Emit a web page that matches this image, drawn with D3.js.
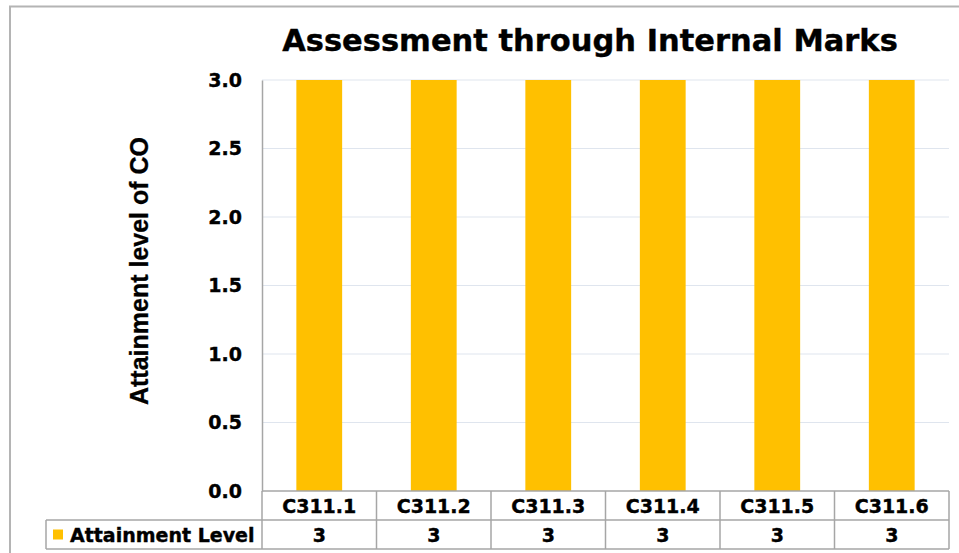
<!DOCTYPE html>
<meta charset="utf-8">
<head>
    <title>Assessment through Internal Marks</title>
    <style>
        body { margin: 0; background: #fff; }
        svg { display: block; }
    </style>
</head>
<body>
<svg width="959" height="553"></svg>
<script src="https://d3js.org/d3.v7.min.js"></script>
<script>

    // chart data
    var categories = ["C311.1", "C311.2", "C311.3", "C311.4", "C311.5", "C311.6"];
    var attainment = [3, 3, 3, 3, 3, 3];
    var seriesName = "Attainment Level";
    var yTicks = [0, 0.5, 1.0, 1.5, 2.0, 2.5, 3.0];

    var svg = d3.select("svg"),
        width = +svg.attr("width"),
        height = +svg.attr("height");

    var font = "'DejaVu Sans', Verdana, sans-serif";
    var plot = {left: 262, right: 949, top: 80, bottom: 491};
    var rowH = 29;

    //outer frame (only left and top edges show in the frame)
    svg.append("path")
        .attr("d", "M10,553 V6.5 H959")
        .attr("fill", "none")
        .attr("stroke", "#b4b4b4")
        .attr("stroke-width", 2);

    var x = d3.scaleBand()
        .domain(categories)
        .range([plot.left, plot.right])
        .paddingInner(0.6)
        .paddingOuter(0.3);

    var col = d3.scaleBand()
        .domain(categories)
        .range([plot.left, plot.right]);

    var y = d3.scaleLinear()
        .domain([0, 3])
        .range([plot.bottom, plot.top]);

    //bold text helper, slightly heavier like Verdana bold
    function boldText(sel, size) {
        sel.attr("font-family", font)
            .attr("font-weight", "bold")
            .attr("font-size", size)
            .attr("fill", "#000")
            .attr("stroke", "#000")
            .attr("stroke-width", 0.4);
    }

    //gridlines
    svg.append("g")
        .selectAll("line")
        .data(yTicks.filter(function(d) { return d > 0; }))
        .enter().append("line")
        .attr("x1", plot.left)
        .attr("x2", plot.right)
        .attr("y1", function(d) { return y(d); })
        .attr("y2", function(d) { return y(d); })
        .attr("stroke", "#dfe5ee")
        .attr("stroke-width", 1);

    //y axis labels
    var yAxis = d3.axisLeft(y)
        .tickValues(yTicks)
        .tickFormat(d3.format(".1f"))
        .tickSize(0)
        .tickPadding(20);

    svg.append("g")
        .attr("transform", "translate(" + plot.left + ",0)")
        .call(yAxis)
        .call(function(g) { g.select(".domain").attr("stroke", "#a6a6a6").attr("stroke-width", 1.5); })
        .selectAll("text")
        .call(boldText, 19);

    //bars
    svg.append("g")
        .selectAll("rect")
        .data(attainment)
        .enter().append("rect")
        .attr("x", function(d, i) { return x(categories[i]); })
        .attr("y", function(d) { return y(d); })
        .attr("width", x.bandwidth())
        .attr("height", function(d) { return plot.bottom - y(d); })
        .attr("fill", "#ffc000");

    //data table under the plot
    var table = svg.append("g")
        .attr("stroke", "#a6a6a6")
        .attr("stroke-width", 1.5)
        .attr("fill", "none");

    table.append("line")
        .attr("x1", plot.left).attr("x2", plot.right)
        .attr("y1", plot.bottom).attr("y2", plot.bottom);
    table.append("line")
        .attr("x1", 46).attr("x2", plot.right)
        .attr("y1", plot.bottom + rowH).attr("y2", plot.bottom + rowH);
    table.append("line")
        .attr("x1", 46).attr("x2", plot.right)
        .attr("y1", plot.bottom + rowH * 2).attr("y2", plot.bottom + rowH * 2);
    table.append("line")
        .attr("x1", 46).attr("x2", 46)
        .attr("y1", plot.bottom + rowH).attr("y2", plot.bottom + rowH * 2);
    table.selectAll(".sep")
        .data(categories.concat(["end"]))
        .enter().append("line")
        .attr("class", "sep")
        .attr("x1", function(d, i) { return plot.left + i * col.bandwidth(); })
        .attr("x2", function(d, i) { return plot.left + i * col.bandwidth(); })
        .attr("y1", plot.bottom)
        .attr("y2", plot.bottom + rowH * 2);

    svg.append("g")
        .selectAll("text")
        .data(categories)
        .enter().append("text")
        .attr("x", function(d) { return col(d) + col.bandwidth() / 2; })
        .attr("y", plot.bottom + rowH / 2 + 7)
        .attr("text-anchor", "middle")
        .call(boldText, 19)
        .text(function(d) { return d; });

    svg.append("g")
        .selectAll("text")
        .data(attainment)
        .enter().append("text")
        .attr("x", function(d, i) { return col(categories[i]) + col.bandwidth() / 2; })
        .attr("y", plot.bottom + rowH * 1.5 + 7)
        .attr("text-anchor", "middle")
        .call(boldText, 19)
        .text(function(d) { return d; });

    //legend key in the table
    svg.append("rect")
        .attr("x", 53)
        .attr("y", plot.bottom + rowH * 1.5 - 5)
        .attr("width", 10)
        .attr("height", 10)
        .attr("fill", "#ffc000");
    svg.append("text")
        .attr("x", 70)
        .attr("y", plot.bottom + rowH * 1.5 + 7)
        .call(boldText, 19)
        .text(seriesName);

    //title
    svg.append("text")
        .attr("x", 590)
        .attr("y", 51)
        .attr("text-anchor", "middle")
        .call(boldText, 30.5)
        .text("Assessment through Internal Marks");

    //y axis title
    svg.append("text")
        .attr("transform", "translate(148,271) rotate(-90)")
        .attr("text-anchor", "middle")
        .attr("font-family", "'Liberation Sans', Arial, sans-serif")
        .attr("font-weight", "bold")
        .attr("font-size", 25)
        .attr("stroke", "#000")
        .attr("stroke-width", 0.3)
        .text("Attainment level of CO");

</script>
</body>
